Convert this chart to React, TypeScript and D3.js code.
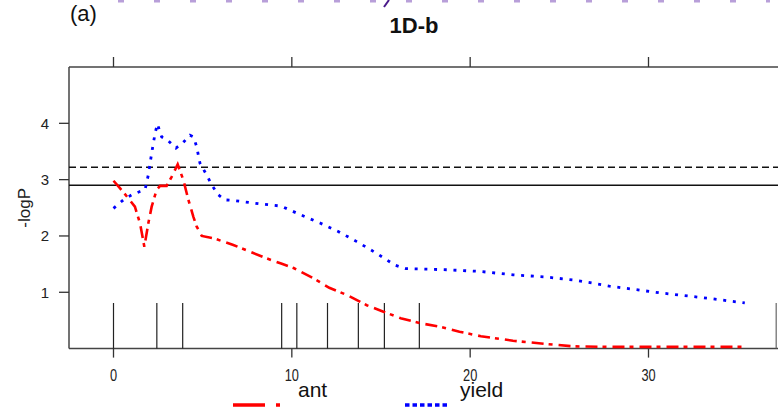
import React from 'react';
import * as d3 from 'd3';

// QTL scan, linkage group 1D-b : position (cM) vs -logP
const antPos = [0, 0.36, 0.83, 1.2, 1.49, 1.73, 1.95, 2.14, 2.42, 2.61, 2.98, 3.26, 3.6, 3.92, 4.2, 4.48, 4.66, 4.95, 5.6, 6.72, 8.6, 9.4, 10.1, 11.2, 12.1, 13.1, 14.2, 15.1, 16.1, 17.2, 18.3, 19.4, 20.6, 22.4, 24.3, 25.8, 28, 31, 35.4];
const antLogP = [2.98, 2.85, 2.67, 2.52, 2.22, 1.81, 2.22, 2.52, 2.82, 2.89, 2.89, 3.05, 3.27, 2.99, 2.64, 2.34, 2.17, 2.0, 1.96, 1.84, 1.6, 1.51, 1.43, 1.25, 1.08, 0.95, 0.77, 0.66, 0.54, 0.45, 0.39, 0.3, 0.22, 0.14, 0.08, 0.04, 0.03, 0.03, 0.03];

const yieldPos = [0, 0.55, 1.02, 1.49, 1.77, 1.95, 2.14, 2.33, 2.46, 2.7, 3.07, 3.5, 3.88, 4.29, 4.48, 4.66, 4.85, 5.23, 5.5, 5.88, 6.25, 6.72, 8.2, 9.4, 10.46, 11.58, 12.6, 13.64, 14.76, 15.79, 16.4, 18.7, 20.56, 22.4, 24.3, 26, 27.8, 30.65, 33.45, 35.4];
const yieldLogP = [2.49, 2.64, 2.73, 2.79, 2.82, 3.08, 3.47, 3.82, 3.99, 3.76, 3.69, 3.56, 3.65, 3.79, 3.76, 3.59, 3.29, 3.08, 2.91, 2.73, 2.64, 2.63, 2.57, 2.53, 2.38, 2.23, 2.08, 1.9, 1.69, 1.48, 1.42, 1.4, 1.37, 1.31, 1.27, 1.21, 1.11, 0.99, 0.89, 0.81];

const markerPos = [0, 2.43, 3.88, 9.43, 10.28, 12.0, 13.73, 15.19, 17.15, 37.16];
const markerHeight = 0.81;

const thresholdDashed = 3.22;
const thresholdSolid = 2.9;

const xTicks = [0, 10, 20, 30];
const yTicks = [1, 2, 3, 4];

const W = 778;
const H = 411;
const FONT = "Arial, 'Liberation Sans', Helvetica, sans-serif";

export default function App() {
  const x = d3.scaleLinear().domain([0, 30]).range([113.5, 648.5]);
  const y = d3.scaleLinear().domain([0, 5]).range([348.6, 67]);
  const left = 69;
  const right = 800;
  const top = y(5);
  const bottom = y(0);

  const toPts = (xs: number[], ys: number[]) => xs.map((v, i) => [v, ys[i]] as [number, number]);
  const line = d3.line<[number, number]>().x(d => x(d[0])).y(d => y(d[1]));

  return (
    <svg
      width={W}
      height={H}
      style={{ position: 'absolute', left: 0, top: 0, background: '#fff' }}
      fontFamily={FONT}
    >
      {/* remnant of the panel above */}
      <line x1={118} x2={770} y1={1} y2={1} stroke="#8a60c0" strokeWidth={3} strokeDasharray="6,30" opacity={0.6} />
      <line x1={384} x2={389} y1={7} y2={0} stroke="#4a1a8a" strokeWidth={2} />

      <text x={70} y={21} fontSize={22} fill="#111">(a)</text>
      <text x={414} y={33} fontSize={22} fontWeight="bold" textAnchor="middle" fill="#111">1D-b</text>

      {/* plot box */}
      <line x1={left} x2={right} y1={top} y2={top} stroke="#444" strokeWidth={1.5} />
      <line x1={left} x2={right} y1={bottom} y2={bottom} stroke="#444" strokeWidth={1.5} />
      <line x1={left} x2={left} y1={top} y2={bottom} stroke="#444" strokeWidth={1.5} />

      {xTicks.map(t => (
        <g key={t}>
          <line x1={x(t)} x2={x(t)} y1={top - 10} y2={top} stroke="#333" strokeWidth={1.3} />
          <line x1={x(t)} x2={x(t)} y1={bottom} y2={bottom + 9} stroke="#333" strokeWidth={1.3} />
          <text transform={`translate(${x(t)},381) scale(0.8,1)`} fontSize={16} textAnchor="middle" fill="#222">{t}</text>
        </g>
      ))}
      {yTicks.map(t => (
        <g key={t}>
          <line x1={left - 10} x2={left} y1={y(t)} y2={y(t)} stroke="#333" strokeWidth={1.3} />
          <text x={49} y={y(t) + 5.5} fontSize={15} textAnchor="end" fill="#222">{t}</text>
        </g>
      ))}
      <text transform={`translate(30,${y(2.5)}) rotate(-90)`} fontSize={17} textAnchor="middle" fill="#222">-logP</text>

      {/* thresholds */}
      <line x1={left} x2={right} y1={y(thresholdDashed)} y2={y(thresholdDashed)} stroke="#111" strokeWidth={1.5} strokeDasharray="7,4" />
      <line x1={left} x2={right} y1={y(thresholdSolid)} y2={y(thresholdSolid)} stroke="#111" strokeWidth={1.5} />

      {/* markers */}
      {markerPos.map((m, i) => (
        <line key={i} x1={x(m)} x2={x(m)} y1={y(0)} y2={y(markerHeight)} stroke={m > 30 ? '#666' : '#222'} strokeWidth={1.2} />
      ))}

      <path d={line(toPts(yieldPos, yieldLogP)) || ''} fill="none" stroke="#0000ff" strokeWidth={2.8} strokeDasharray="3,6.7" />
      <path d={line(toPts(antPos, antLogP)) || ''} fill="none" stroke="#ff0000" strokeWidth={2.6} strokeDasharray="12,5,4,6" />

      {/* legend */}
      <line x1={233} x2={281} y1={405} y2={405} stroke="#ff0000" strokeWidth={3.5} strokeDasharray="32,11,4,20" />
      <text x={298} y={397} fontSize={21} fill="#111">ant</text>
      <line x1={405} x2={448} y1={405} y2={405} stroke="#0000ff" strokeWidth={3.5} strokeDasharray="4.5,3" />
      <text x={460} y={397} fontSize={21} fill="#111">yield</text>
    </svg>
  );
}
